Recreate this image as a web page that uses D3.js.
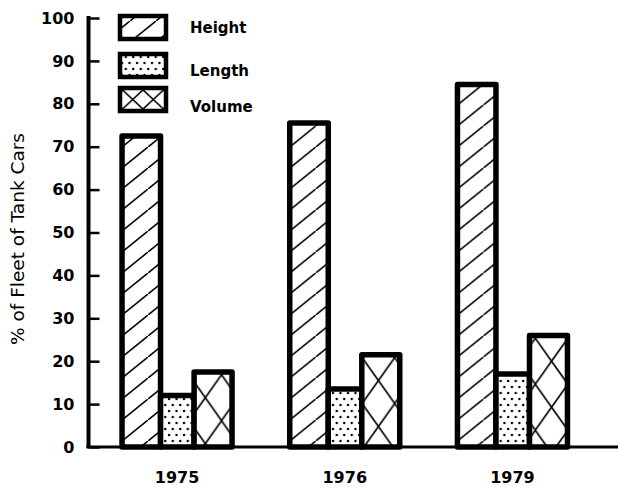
<!DOCTYPE html>
<html>
<head>
<meta charset="utf-8">
<script src="https://cdn.jsdelivr.net/npm/d3@7"></script>
<style>
  body { margin: 0; background: #fff; }
  svg { display: block; background: #fff; }
  .tick text, .label { font-family: "DejaVu Sans", sans-serif; fill: #000; }
</style>
</head>
<body>
<svg class="chart" width="618" height="488"></svg>
<script>
var years = ["1975", "1976", "1979"];
var seriesNames = ["Height", "Length", "Volume"];
var heightValues = [72.5, 75.5, 84.5];
var lengthValues = [12, 13.5, 17];
var volumeValues = [17.5, 21.5, 26];
var yTicks = [0, 10, 20, 30, 40, 50, 60, 70, 80, 90, 100];
var yTitle = "% of Fleet of Tank Cars";

(function() {
  var svg = d3.select(".chart"),
      width = +svg.attr("width"),
      height = +svg.attr("height");

  var left = 88.5, bottom = 447, top = 18;

  // share of the group width taken by each bar (they are not equal)
  var subShare = [0.35, 0.305, 0.345];
  var barStroke = 5.5;

  var data = years.map(function(y, i) {
    return {
      year: y,
      values: [heightValues[i], lengthValues[i], volumeValues[i]]
    };
  });

  var yScale = d3.scaleLinear()
    .domain([0, 100])
    .range([bottom, top]);

  var xScale = d3.scaleBand()
    .domain(years)
    .range([left, 601])
    .paddingInner(0.344)
    .paddingOuter(0.2);

  var offsets = [0];
  subShare.forEach(function(s, i) { offsets.push(offsets[i] + s); });

  var defs = svg.append("defs");

  // diagonal hatch for Height
  var hatch = defs.append("pattern")
    .attr("id", "hatch")
    .attr("patternUnits", "userSpaceOnUse")
    .attr("width", 26)
    .attr("height", 21);
  hatch.append("path")
    .attr("d", "M-6.5,26.25L32.5,-5.25")
    .attr("stroke", "#000")
    .attr("stroke-width", 1.6);

  // dots for Length
  var dots = defs.append("pattern")
    .attr("id", "dots")
    .attr("patternUnits", "userSpaceOnUse")
    .attr("width", 7.5)
    .attr("height", 12);
  dots.append("circle").attr("cx", 2).attr("cy", 3).attr("r", 1.25);
  dots.append("circle").attr("cx", 5.75).attr("cy", 9).attr("r", 1.25);

  var chart = svg.append("g");

  var group = chart.selectAll(".year")
    .data(data)
    .enter().append("g")
    .attr("class", "year")
    .attr("transform", function(d) {
      return "translate(" + xScale(d.year) + ",0)";
    });

  group.each(function(d, gi) {
    var g = d3.select(this);
    var bw = xScale.bandwidth();

    d.values.forEach(function(v, si) {
      var x0 = offsets[si] * bw,
          w = subShare[si] * bw,
          y0 = yScale(v),
          h = yScale(0) - y0;
      var fill = "#fff";

      if (si === 0) fill = "url(#hatch)";
      if (si === 1) fill = "url(#dots)";
      if (si === 2) {
        // cross hatch pattern laid out per bar so the diamonds fit its width
        var id = "cross" + gi;
        var pw = w - barStroke, ph = 46;
        var p = defs.append("pattern")
          .attr("id", id)
          .attr("patternUnits", "userSpaceOnUse")
          .attr("x", xScale(d.year) + x0 + barStroke / 2)
          .attr("y", y0 + barStroke / 2)
          .attr("width", pw)
          .attr("height", ph);
        p.append("path")
          .attr("d", "M0,0L" + pw + "," + ph + "M" + pw + ",0L0," + ph)
          .attr("stroke", "#000")
          .attr("stroke-width", 1.6)
          .attr("fill", "none");
        fill = "url(#" + id + ")";
      }

      g.append("rect")
        .attr("x", x0)
        .attr("y", y0)
        .attr("width", w)
        .attr("height", h)
        .attr("fill", "#fff");

      g.append("rect")
        .attr("x", x0)
        .attr("y", y0)
        .attr("width", w)
        .attr("height", h)
        .attr("fill", fill)
        .attr("stroke", "#000")
        .attr("stroke-width", barStroke)
        .attr("stroke-linejoin", "round");
    });
  });

  // Add the y Axis
  var yAxis = d3.axisLeft(yScale)
    .tickValues(yTicks)
    .tickSizeInner(-11)
    .tickSizeOuter(0)
    .tickPadding(14);

  var yG = chart.append("g")
    .attr("transform", "translate(" + left + ",0)")
    .call(yAxis);
  yG.select(".domain")
    .attr("stroke-width", 4)
    .attr("d", "M0," + (bottom + 1) + "V" + (top - 2));
  yG.selectAll(".tick line").attr("stroke-width", 2.5);
  yG.selectAll(".tick text")
    .style("font-size", "16px")
    .style("font-weight", "bold");

  // baseline runs to the right edge
  chart.append("line")
    .attr("x1", left - 2)
    .attr("x2", width)
    .attr("y1", yScale(0))
    .attr("y2", yScale(0))
    .attr("stroke", "#000")
    .attr("stroke-width", 3);

  // Add the x Axis (labels only)
  var xAxis = d3.axisBottom(xScale)
    .tickSize(0)
    .tickPadding(25);

  var xG = chart.append("g")
    .attr("transform", "translate(0," + bottom + ")")
    .call(xAxis);
  xG.select(".domain").remove();
  xG.selectAll(".tick text")
    .style("font-size", "16px")
    .style("font-weight", "bold");

  // y title
  svg.append("text")
    .attr("class", "label")
    .attr("transform", "translate(24,239) rotate(-90)")
    .style("text-anchor", "middle")
    .style("font-size", "18.5px")
    .text(yTitle);

  // legend
  var legendFills = ["url(#hatch)", "url(#dots)", "url(#legendCross)"];
  var legendBoxY = [16, 54, 88];
  var legendTextY = [33, 76, 112];

  var lc = defs.append("pattern")
    .attr("id", "legendCross")
    .attr("patternUnits", "userSpaceOnUse")
    .attr("x", 122.5)
    .attr("y", legendBoxY[2] + 2)
    .attr("width", 20.5)
    .attr("height", 19);
  lc.append("path")
    .attr("d", "M0,0L20.5,19M20.5,0L0,19")
    .attr("stroke", "#000")
    .attr("stroke-width", 1.6);

  var legend = svg.append("g").selectAll("g")
    .data(seriesNames)
    .enter().append("g");

  legend.append("rect")
    .attr("x", 120)
    .attr("y", function(d, i) { return legendBoxY[i]; })
    .attr("width", 46)
    .attr("height", 23)
    .attr("fill", "#fff");

  legend.append("rect")
    .attr("x", 120)
    .attr("y", function(d, i) { return legendBoxY[i]; })
    .attr("width", 46)
    .attr("height", 23)
    .attr("fill", function(d, i) { return legendFills[i]; })
    .attr("stroke", "#000")
    .attr("stroke-width", 4.5);

  legend.append("text")
    .attr("class", "label")
    .attr("x", 190)
    .attr("y", function(d, i) { return legendTextY[i]; })
    .style("font-size", "15px")
    .style("font-weight", "bold")
    .text(function(d) { return d; });
})();
</script>
</body>
</html>
